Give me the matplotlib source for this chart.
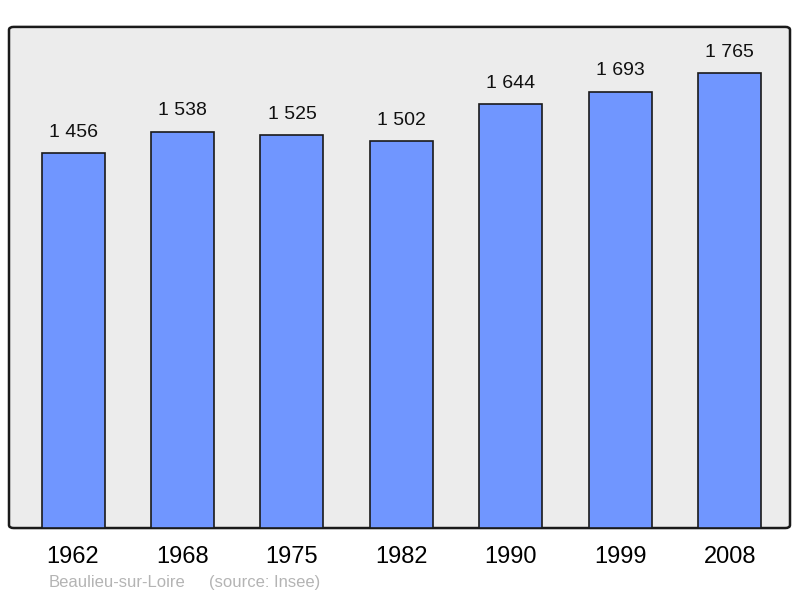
import matplotlib
matplotlib.use("Agg")
import matplotlib.pyplot as plt
from matplotlib.patches import FancyBboxPatch

years = ["1962", "1968", "1975", "1982", "1990", "1999", "2008"]
population = [1456, 1538, 1525, 1502, 1644, 1693, 1765]
labels = ["1 456", "1 538", "1 525", "1 502", "1 644", "1 693", "1 765"]

plt.rcParams['font.family'] = ['Liberation Sans', 'DejaVu Sans']

fig = plt.figure(figsize=(8, 5.98), dpi=100)
ax = fig.add_axes([0.01125, 0.117, 0.97625, 0.838])
ax.set_facecolor('none')
for s in ax.spines.values():
    s.set_visible(False)

bg = FancyBboxPatch((0, 0), 1, 1, boxstyle="round,pad=0,rounding_size=0.006",
                    transform=ax.transAxes, facecolor='#ececec', edgecolor='#1a1a1a',
                    linewidth=1.8, zorder=0, clip_on=False)
ax.add_patch(bg)

x = list(range(len(years)))
bars = ax.bar(x, population, width=0.575, color='#7096ff', edgecolor='#1a1a1a',
              linewidth=1.2, zorder=2)
for xi, v, lab in zip(x, population, labels):
    ax.text(xi, v + 47, lab, ha='center', va='bottom', fontsize=14, color='#111111')

ax.set_xlim(-0.585, 6.55)
ax.set_ylim(0, 1944)
ax.set_yticks([])
ax.set_xticks(x)
ax.set_xticklabels(years, fontsize=17)
ax.tick_params(axis='x', length=0, pad=13)

fig.text(0.061, 0.013, "Beaulieu-sur-Loire", fontsize=12,
         color='#b4b4b4', ha='left', va='bottom')
fig.text(0.261, 0.013, "(source: Insee)", fontsize=12,
         color='#b4b4b4', ha='left', va='bottom')

fig.savefig("out.png", dpi=100)
